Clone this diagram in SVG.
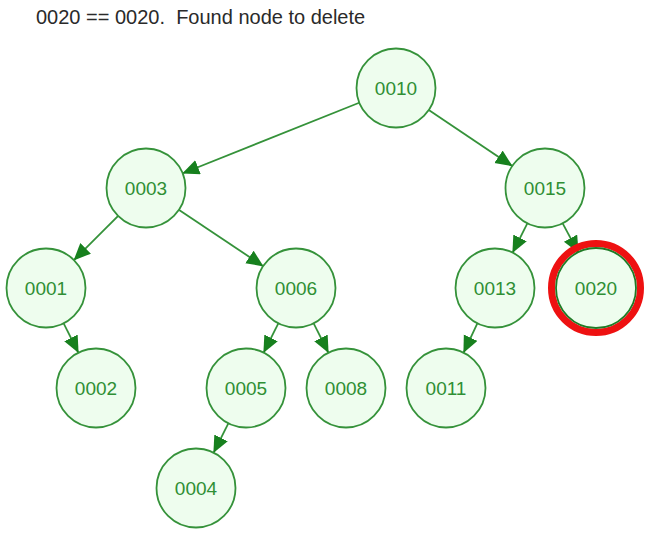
<svg xmlns="http://www.w3.org/2000/svg" width="658" height="542" viewBox="0 0 658 542">
<defs>
<marker id="arr" markerUnits="userSpaceOnUse" markerWidth="18" markerHeight="16" refX="17" refY="7.5" orient="auto">
<path d="M0,0 L17,7.5 L0,15 z" fill="#17801e"/>
</marker>
<style>
.n circle{fill:#eefdee;stroke:#35923a;stroke-width:1.8}
.n text{font-family:"Liberation Sans",Arial,sans-serif;font-size:19px;fill:#2f8f34;text-anchor:middle;dominant-baseline:central}
.e line{stroke:#35923a;stroke-width:1.8;marker-end:url(#arr)}
.t{font-family:"Liberation Sans",Arial,sans-serif;font-size:20px;fill:#2a2a2a}
</style>
</defs>
<rect width="658" height="542" fill="#fff"/>
<text class="t" x="36" y="24" xml:space="preserve">0020 == 0020.  Found node to delete</text>
<g id="connectors" class="e">
<line x1="359.8" y1="102.5" x2="182.2" y2="173.5"/>
<line x1="428.4" y1="109.7" x2="512.6" y2="166.3"/>
<line x1="118.4" y1="215.6" x2="73.6" y2="260.4"/>
<line x1="178.4" y1="209.6" x2="263.6" y2="266.4"/>
<line x1="527.6" y1="222.9" x2="512.4" y2="253.1"/>
<line x1="562.4" y1="222.9" x2="578.6" y2="253.1"/>
<line x1="63.4" y1="322.9" x2="78.6" y2="353.1"/>
<line x1="278.6" y1="322.9" x2="263.4" y2="353.1"/>
<line x1="313.4" y1="322.9" x2="328.6" y2="353.1"/>
<line x1="477.6" y1="322.9" x2="463.4" y2="353.1"/>
<line x1="228.6" y1="422.9" x2="213.4" y2="453.1"/>
</g>
<g id="n0010" class="n"><circle cx="396" cy="88" r="39.5"/><text x="396" y="88">0010</text></g>
<g id="n0003" class="n"><circle cx="146" cy="188" r="39.5"/><text x="146" y="188">0003</text></g>
<g id="n0015" class="n"><circle cx="545" cy="188" r="39.5"/><text x="545" y="188">0015</text></g>
<g id="n0001" class="n"><circle cx="46" cy="288" r="39.5"/><text x="46" y="288">0001</text></g>
<g id="n0006" class="n"><circle cx="296" cy="288" r="39.5"/><text x="296" y="288">0006</text></g>
<g id="n0013" class="n"><circle cx="495" cy="288" r="39.5"/><text x="495" y="288">0013</text></g>
<g id="n0020" class="n"><circle cx="596" cy="288" r="44.5" style="fill:none;stroke:#ee1111;stroke-width:7"/><circle cx="596" cy="288" r="40" style="stroke:#1f7a25"/><text x="596" y="288">0020</text></g>
<g id="n0002" class="n"><circle cx="96" cy="388" r="39.5"/><text x="96" y="388">0002</text></g>
<g id="n0005" class="n"><circle cx="246" cy="388" r="39.5"/><text x="246" y="388">0005</text></g>
<g id="n0008" class="n"><circle cx="346" cy="388" r="39.5"/><text x="346" y="388">0008</text></g>
<g id="n0011" class="n"><circle cx="446" cy="388" r="39.5"/><text x="446" y="388">0011</text></g>
<g id="n0004" class="n"><circle cx="196" cy="488" r="39.5"/><text x="196" y="488">0004</text></g>
</svg>
